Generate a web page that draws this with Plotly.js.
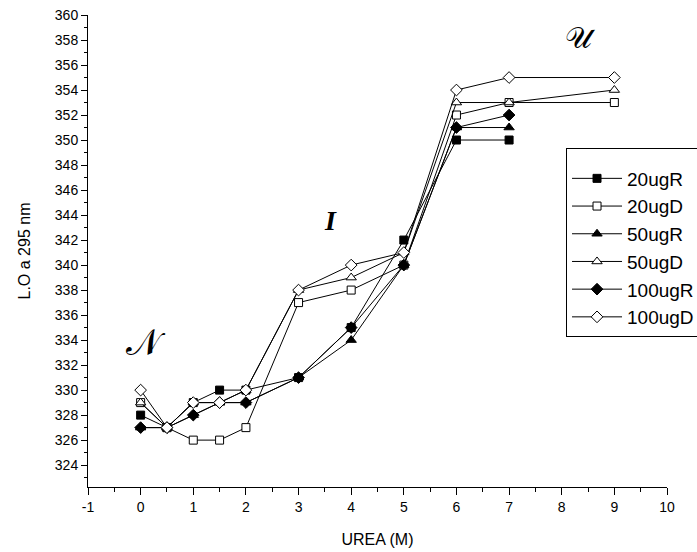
<!DOCTYPE html>
<html>
<head>
<meta charset="utf-8">
<script src="https://cdn.plot.ly/plotly-3.0.1.min.js"></script>
<style>html,body{margin:0;padding:0;background:#fff;}#chart{width:697px;height:552px;}</style>
</head>
<body>
<div id="chart"></div>
<script>
const ureaAll = [0, 0.5, 1, 1.5, 2, 3, 4, 5, 6, 7, 9];
const ureaR = [0, 0.5, 1, 1.5, 2, 3, 4, 5, 6, 7];
const s20ugR = [328, 327, 329, 330, 330, 331, 335, 342, 350, 350];
const s20ugD = [329, 327, 326, 326, 327, 337, 338, 340, 352, 353, 353];
const s50ugR = [327, 327, 328, 329, 329, 331, 334, 340, 351, 351];
const s50ugD = [329, 327, 329, 329, 330, 338, 339, 341, 353, 353, 354];
const s100ugR = [327, 327, 328, 329, 329, 331, 335, 340, 351, 352];
const s100ugD = [330, 327, 329, 329, 330, 338, 340, 341, 354, 355, 355];
const seriesNames = ['20ugR', '20ugD', '50ugR', '50ugD', '100ugR', '100ugD'];
const xTickVals = [-1, 0, 1, 2, 3, 4, 5, 6, 7, 8, 9, 10];
const yTickVals = [324, 326, 328, 330, 332, 334, 336, 338, 340, 342, 344, 346, 348, 350, 352, 354, 356, 358, 360];
const regionLabels = ['𝒩', '<b><i>I</i></b>', '𝒰'];
const regionX = [0.1, 3.6, 8.35];
const regionY = [333.8, 343.6, 358.2];
const regionSize = [36, 28, 30];

function tr(name, x, y, symbol, filled, size) {
  return {
    type: 'scatter', mode: 'lines+markers', name: name, x: x, y: y,
    line: {color: '#000', width: 1},
    marker: {symbol: symbol, size: size, color: filled ? '#000' : '#fff', line: {color: '#000', width: 1}},
    legendgroup: name
  };
}
const data = [
  tr(seriesNames[0], ureaR, s20ugR, 'square', true, 8),
  tr(seriesNames[1], ureaAll, s20ugD, 'square', false, 8),
  tr(seriesNames[2], ureaR, s50ugR, 'triangle-up', true, 9),
  tr(seriesNames[3], ureaAll, s50ugD, 'triangle-up', false, 9),
  tr(seriesNames[4], ureaR, s100ugR, 'diamond', true, 9),
  tr(seriesNames[5], ureaAll, s100ugD, 'diamond', false, 9)
];
const axFont = {family: 'Liberation Sans, Arial, sans-serif', size: 14, color: '#000'};
const layout = {
  width: 697, height: 552,
  margin: {l: 88, r: 30, t: 15, b: 65, autoexpand: false},
  paper_bgcolor: '#fff', plot_bgcolor: '#fff',
  showlegend: true,
  legend: {
    x: 0.8256, y: 0.718, xanchor: 'left', yanchor: 'top',
    bgcolor: '#fff', bordercolor: '#000', borderwidth: 1,
    font: {family: 'Liberation Sans, Arial, sans-serif', size: 19, color: '#000'},
    title: {text: '&nbsp;', font: {size: 8}},
    traceorder: 'grouped', tracegroupgap: 0, itemwidth: 50
  },
  xaxis: {
    range: [-1, 10], tickvals: xTickVals, ticktext: xTickVals.map(String),
    showgrid: false, zeroline: false, showline: true, linecolor: '#000', linewidth: 1,
    ticks: 'outside', ticklen: 7, tickwidth: 1, tickcolor: '#000',
    minor: {dtick: 0.5, ticks: 'outside', ticklen: 4, tickwidth: 1, tickcolor: '#000', showgrid: false},
    tickfont: axFont,
    title: {text: 'UREA (M)', font: {family: 'Liberation Sans, Arial, sans-serif', size: 16, color: '#000'}, standoff: 20}
  },
  yaxis: {
    range: [322.25, 360], tickvals: yTickVals, ticktext: yTickVals.map(String),
    showgrid: false, zeroline: false, showline: true, linecolor: '#000', linewidth: 1,
    ticks: 'outside', ticklen: 6, tickwidth: 1, tickcolor: '#000',
    minor: {dtick: 1, tick0: 323, ticks: 'outside', ticklen: 3, tickwidth: 1, tickcolor: '#000', showgrid: false},
    tickfont: axFont,
    title: {text: 'L.O a 295 nm', font: {family: 'Liberation Sans, Arial, sans-serif', size: 16, color: '#000'}, standoff: 20}
  },
  annotations: regionLabels.map((t, i) => ({
    x: regionX[i], y: regionY[i], xref: 'x', yref: 'y', text: t, showarrow: false,
    font: {family: i === 1 ? 'Liberation Serif, serif' : 'DejaVu Serif, Noto Sans, serif', size: regionSize[i], color: '#000'}
  }))
};
Plotly.newPlot('chart', data, layout, {staticPlot: true, displayModeBar: false});
</script>
</body>
</html>
